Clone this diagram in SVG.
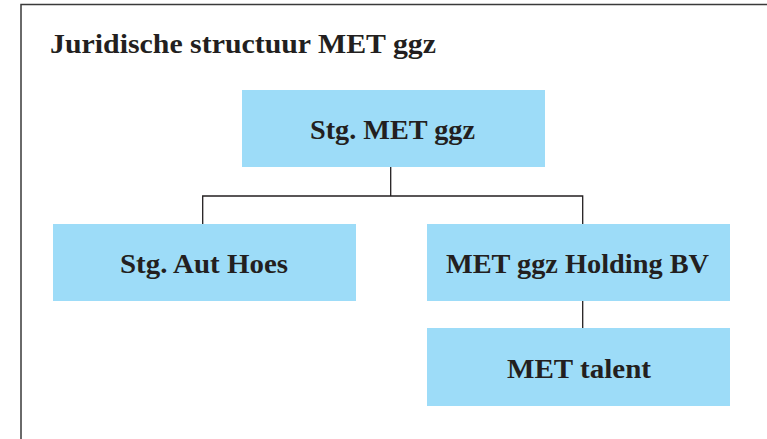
<svg xmlns="http://www.w3.org/2000/svg" width="767" height="439" viewBox="0 0 767 439">
<style>
.box{fill:#9ddcf8}
.lbl{font-family:"Liberation Serif","DejaVu Serif",serif;font-weight:bold;font-size:27px;fill:#231f20;text-anchor:middle}
.con{stroke:#231f20;stroke-width:1.3;fill:none}
</style>
<rect width="767" height="439" fill="#fff"/>
<g id="frame">
<path d="M21,439 V4.5 H767" fill="none" stroke="#3a3a3a" stroke-width="1.5"/>
</g>
<text id="title" x="50" y="53" font-family="'Liberation Serif','DejaVu Serif',serif" font-weight="bold" font-size="27" fill="#231f20" textLength="386" lengthAdjust="spacingAndGlyphs">Juridische structuur MET ggz</text>
<g id="connectors">
<path class="con" d="M390.7,167 V196 M202.7,224 V196 H582.7 V224"/>
<path class="con" d="M582.7,301 V328"/>
</g>
<g id="n1"><rect class="box" x="242" y="90" width="303" height="77"/><text class="lbl" x="392.5" y="139" textLength="165" lengthAdjust="spacingAndGlyphs">Stg. MET ggz</text></g>
<g id="n2"><rect class="box" x="53" y="224" width="303" height="77"/><text class="lbl" x="204" y="273" textLength="168" lengthAdjust="spacingAndGlyphs">Stg. Aut Hoes</text></g>
<g id="n3"><rect class="box" x="427" y="224" width="303" height="77"/><text class="lbl" x="577.5" y="273" textLength="263" lengthAdjust="spacingAndGlyphs">MET ggz Holding BV</text></g>
<g id="n4"><rect class="box" x="427" y="328" width="303" height="78"/><text class="lbl" x="579" y="378" textLength="144" lengthAdjust="spacingAndGlyphs">MET talent</text></g>
</svg>
